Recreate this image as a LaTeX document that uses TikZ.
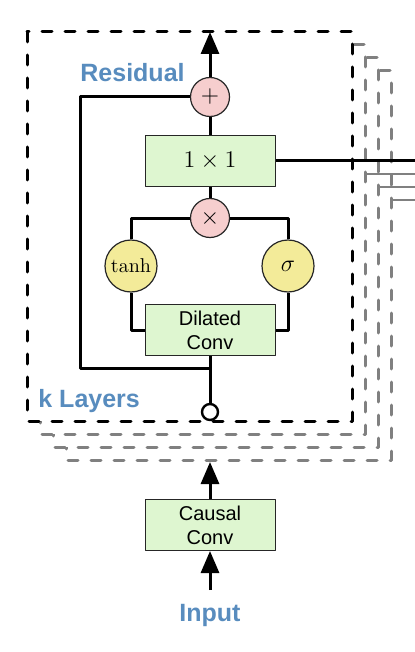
\documentclass[tikz,border=0pt]{standalone}
\usepackage{fontspec}
\newfontfamily\arialfont{Liberation Sans}
\usetikzlibrary{arrows.meta,positioning}
\definecolor{tagblue}{RGB}{88,140,190}
\definecolor{convgreen}{RGB}{222,246,208}
\definecolor{oppink}{RGB}{246,206,206}
\definecolor{actyellow}{RGB}{243,235,153}
\tikzset{
	conv/.style={draw=black!85, line width=0.5pt, fill=convgreen, minimum width=65pt, minimum height=25.5pt, inner sep=0pt, align=center, font=\arialfont\fontsize{10}{12}\selectfont},
	op/.style={circle, draw=black!85, line width=0.6pt, fill=oppink, minimum size=19.5pt, inner sep=0pt, font=\fontsize{13}{13}\selectfont},
	act/.style={circle, draw=black!85, line width=0.6pt, fill=actyellow, minimum size=26pt, inner sep=0pt},
	tag/.style={text=tagblue, font=\arialfont\bfseries\fontsize{12.5}{14}\selectfont, inner sep=0pt},
	wire/.style={line width=1.5pt},
	layer/.style={dash pattern=on 5pt off 6.5pt, line cap=round, line width=1.5pt, fill=white}
}
\begin{document}
\begin{tikzpicture}[x=0.5pt, y=-0.5pt, >={Triangle[length=11pt,width=9pt]}, line join=round]
		\useasboundingbox (0,0) rectangle (415,652);
		% Fixed points of the wires
		\path (210,32) coordinate (top)
		(210,368) coordinate (split)
		(80,368) coordinate (back)
		(415,161) coordinate (skip)
		(210,462) coordinate (stackin)
		(210,590) coordinate (src);
		% ==================== STACKED LAYERS ====================
		\foreach \k in {3,2,1}{
			\draw[layer, draw=black!50] (27+13*\k, 32+13*\k) rectangle (352+13*\k, 421+13*\k);
			\draw[line width=1.4pt, black!50] (352+13*\k, 161+13*\k) -- (415, 161+13*\k);
		}
		\draw[layer] (27,32) rectangle (352,421);
		% ==================== ONE LAYER ====================
		\node[op] (plus) at (210,97) {$+$};
		\node[conv, font=\fontsize{12}{14}\selectfont] (mix) at (210,161) {$1\times 1$};
		\node[op] (prod) at (210,218) {$\times$};
		\node[act, font=\fontsize{10}{10}\selectfont] (tanh) at (131,266) {$\tanh$};
		\node[act, font=\fontsize{13}{13}\selectfont] (sig) at (288,266) {$\sigma$};
		\node[conv] (dil) at (210,330) {Dilated\\Conv};
		\node[circle, draw, line width=1.2pt, fill=white, minimum size=8pt, inner sep=0pt] (out) at (210,412) {};
		\draw[wire, ->] (plus) -- (top);
		\draw[wire] (mix) -- (plus);
		\draw[wire] (prod) -- (mix);
		\draw[wire] (tanh.north) |- (prod.west);
		\draw[wire] (sig.north) |- (prod.east);
		\draw[wire] (tanh.south) |- (dil.west);
		\draw[wire] (sig.south) |- (dil.east);
		\draw[wire] (out) -- (dil);
		\draw[wire] (split) -- (back) |- (plus.west);
		\draw[wire] (mix.east) -- (skip);
		% ==================== INPUT ====================
		\node[conv] (causal) at (210,525) {Causal\\Conv};
		\draw[wire, ->] (causal) -- (stackin);
		\draw[wire, ->] (src) -- (causal);
		% ==================== LABELS ====================
		\node[tag, anchor=base west] (res) at (80,82) {Residual};
		\node[tag, anchor=base west] (klay) at (38,407) {k Layers};
		\node[tag, anchor=base] (inp) at (210,621) {Input};
	\end{tikzpicture}
\end{document}
